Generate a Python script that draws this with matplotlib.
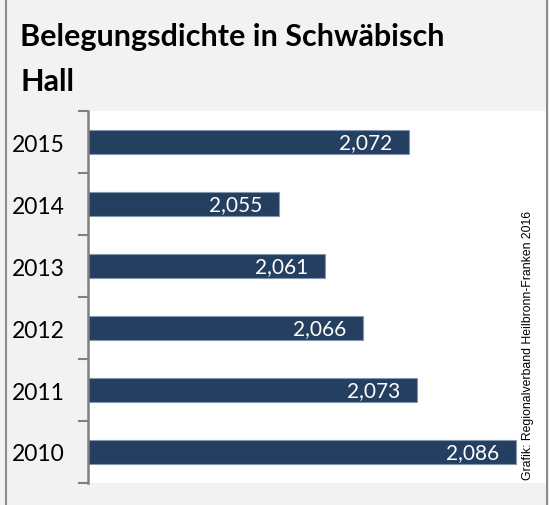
import matplotlib.pyplot as plt
from matplotlib.lines import Line2D

# data
years = ['2010', '2011', '2012', '2013', '2014', '2015']
values = [2.086, 2.073, 2.066, 2.061, 2.055, 2.072]

W, H = 549, 506
fig = plt.figure(figsize=(W / 100, H / 100), dpi=100)
fig.patch.set_facecolor('#f2f2f2')

# outer frame lines
for xp in (5.5, 547):
    fig.add_artist(Line2D([xp / W, xp / W], [0, 1], color='#8c8c8c', lw=1.5))

ax = fig.add_axes([88 / W, (H - 484) / H, (547 - 88) / W, (484 - 112) / H])
ax.set_facecolor('white')

pos = list(range(len(years)))
ax.barh(pos, values, height=0.39, color='#243f60', edgecolor='#8596ad', linewidth=0.8)

ax.set_xlim(2.03, 2.09)
ax.set_ylim(-0.5, len(years) - 0.5)

for s in ('top', 'right', 'bottom'):
    ax.spines[s].set_visible(False)
ax.spines['left'].set_color('#808080')
ax.spines['left'].set_linewidth(1.8)
ax.set_xticks([])

# ticks at category boundaries, labels at centers
ax.set_yticks([p - 0.5 for p in pos] + [len(years) - 0.5])
ax.set_yticklabels([])
ax.tick_params(axis='y', which='major', length=7, width=1.5, color='#808080')
ax.set_yticks(pos, minor=True)
ax.set_yticklabels(years, minor=True, fontsize=16.5, family='Lato')
ax.tick_params(axis='y', which='minor', length=0, pad=17)

for p, v in zip(pos, values):
    ax.annotate(f'{v:.3f}'.replace('.', ','), xy=(v, p), xytext=(-17, 0),
                textcoords='offset pixels', ha='right', va='center',
                color='white', fontsize=15, family='Lato')

fig.text(20 / W, 1 - 23 / H, 'Belegungsdichte in Schwäbisch\nHall',
         ha='left', va='top', fontsize=22, fontweight='bold', family='Lato',
         linespacing=1.72)

fig.text(528 / W, 1 - 480 / H, 'Grafik: Regionalverband Heilbronn-Franken 2016',
         rotation=90, ha='center', va='bottom', fontsize=8.8,
         family='Liberation Sans')

fig.savefig('out.png', dpi=100, facecolor=fig.get_facecolor())
